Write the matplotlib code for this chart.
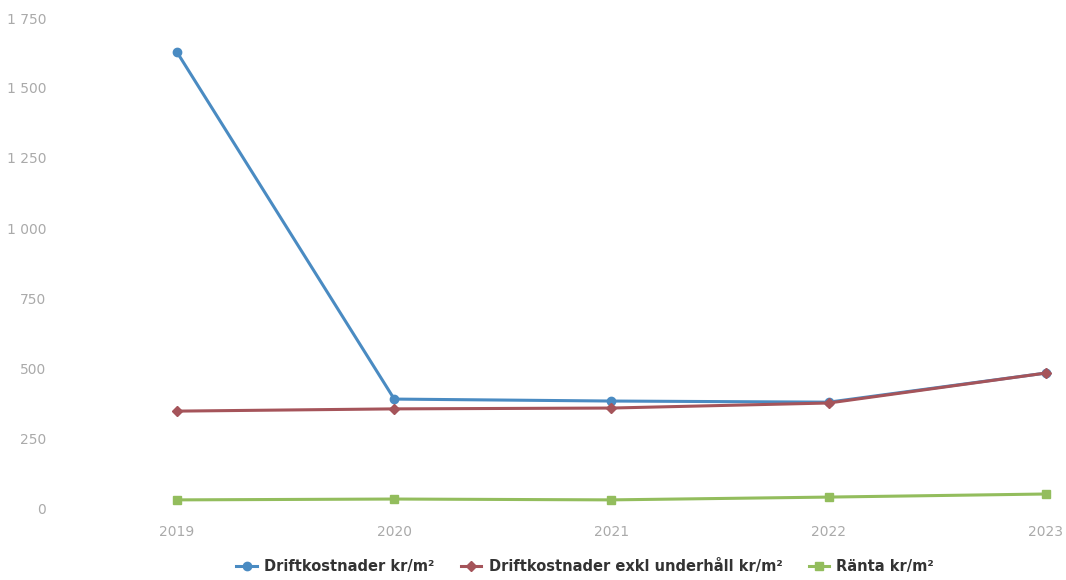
import matplotlib
matplotlib.use("Agg")
import matplotlib.pyplot as plt
from matplotlib.ticker import FuncFormatter

years = [2019, 2020, 2021, 2022, 2023]
drift = [1628, 389, 382, 378, 482]
drift_exkl = [346, 354, 357, 375, 482]
ranta = [29, 32, 29, 39, 50]
yticks = [0, 250, 500, 750, 1000, 1250, 1500, 1750]

plt.rcParams["font.family"] = ["DejaVu Sans"]

fig = plt.figure(figsize=(10.66, 5.8), dpi=100)
ax = fig.add_axes([60 / 1066, 72 / 580, 1006 / 1066, 490 / 580])

ax.plot(years, drift, color="#4a8bc2", lw=2.2, marker="o", ms=6, label="Driftkostnader kr/m²")
ax.plot(years, drift_exkl, color="#a5545a", lw=2.2, marker="D", ms=5, label="Driftkostnader exkl underhåll kr/m²")
ax.plot(years, ranta, color="#93bd5d", lw=2.2, marker="s", ms=6, label="Ränta kr/m²")

ax.set_xlim(2019 - 117 / 217.25, 2023 + 20 / 217.25)
ax.set_ylim(0, 1750)
ax.set_xticks(years)
ax.set_yticks(yticks)
ax.yaxis.set_major_formatter(FuncFormatter(lambda v, p: f"{int(v):,}".replace(",", " ")))
ax.tick_params(axis="both", length=0, labelsize=10, labelcolor="#aaaaaa")
ax.tick_params(axis="y", pad=10)
ax.tick_params(axis="x", pad=12)
for s in ax.spines.values():
    s.set_visible(False)

fig.legend(loc="lower center", bbox_to_anchor=(0.549, -0.012), ncol=3, frameon=False,
           prop={"weight": "bold", "size": 10.5}, labelcolor="#333333", handlelength=1.4,
           columnspacing=1.8, handletextpad=0.5)

fig.savefig("out.png", dpi=100)
